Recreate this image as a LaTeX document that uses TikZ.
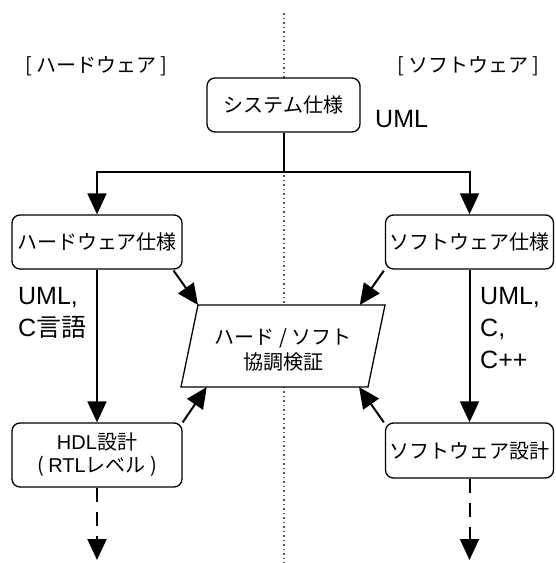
\documentclass[tikz,border=0pt]{standalone}
\usepackage{fontspec}
\setmainfont{Liberation Sans}
\newfontfamily\jp{Noto Sans CJK JP}
\usetikzlibrary{arrows.meta,calc}
\begin{document}
\begin{tikzpicture}[x=1pt,y=-1pt,
  box/.style={draw,line width=1.3pt,rounded corners=8pt,fill=white,inner sep=0pt,
    font=\jp\fontsize{20}{23}\selectfont,align=center,minimum width=170pt,minimum height=54pt},
  para/.style={draw,line width=1.3pt,fill=white},
  paratext/.style={inner sep=0pt,font=\jp\fontsize{20}{25}\selectfont,align=center},
  arr/.style={line width=2pt,-{Triangle[length=21pt,width=19pt]}},
  dasharr/.style={arr,dash pattern=on 14pt off 10pt},
  lbl/.style={inner sep=0pt,font=\fontsize{25}{32}\selectfont,align=left},
  sec/.style={inner sep=0pt,font=\jp\fontsize{20}{24}\selectfont},
  divider/.style={line width=1.3pt,black!65,dash pattern=on 1.5pt off 3pt}]
\useasboundingbox (0,0) rectangle (555,563);
% divider
\coordinate (dtop) at (284,13);
\coordinate (dbot) at (284,563);
\draw[divider] (dtop) -- (dbot);
% section titles
\node[sec] (hwt) at (96.5,66) {[ ハードウェア ]};
\node[sec] (swt) at (468.5,66) {[ ソフトウェア ]};
% boxes
\node[box,minimum width=153pt] (sys) at (283.5,105) {システム仕様};
\node[box] (hw) at (97,242) {ハードウェア仕様};
\node[box,minimum width=168pt] (sw) at (469.5,242) {ソフトウェア仕様};
\node[box,minimum height=64pt] (hdl) at (97,455) {{\rmfamily HDL}設計\\( {\rmfamily RTL}レベル )};
\node[box,minimum width=168pt,minimum height=55pt] (swd) at (469.5,450.5) {ソフトウェア設計};
% co-verification parallelogram
\coordinate (pTL) at (198,305);
\coordinate (pTR) at (385,305);
\coordinate (pBR) at (368,387);
\coordinate (pBL) at (181,387);
\draw[para] (pTL) -- (pTR) -- (pBR) -- (pBL) -- cycle;
\node[paratext] (co) at (283,349.5) {ハード / ソフト\\協調検証};
% labels
\node[lbl,anchor=base west] (uml) at (375,127) {UML};
\node[lbl,anchor=north west] (hwl) at (18,287) {UML,\\C{\jp 言語}};
\node[lbl,anchor=north west] (swl) at (480,287) {UML,\\C,\\C++};
% connectors
\coordinate (split) at (283.5,172);
\draw[arr] (sys.south) -- (split) -| (hw.north);
\draw[arr] (split) -| (sw.north);
\draw[arr] (hw.south) -- (hdl.north);
\draw[arr] (sw.south) -- (swd.north);
\draw[arr] ($(hw.south east)+(-9,1)$) -- (pTL);
\draw[arr] ($(sw.south west)+(-1,1)$) -- ($(pTL)!0.865!(pTR)$);
\draw[arr] (hdl.north east) -- ($(pBL)!0.138!(pBR)$);
\draw[arr] ($(swd.north west)+(-1,0)$) -- ($(pBL)!0.952!(pBR)$);
\coordinate (hdlend) at (97,560);
\coordinate (swdend) at (469.5,560);
\draw[dasharr] (hdl.south) -- (hdlend);
\draw[dasharr] (swd.south) -- (swdend);
\end{tikzpicture}
\end{document}
